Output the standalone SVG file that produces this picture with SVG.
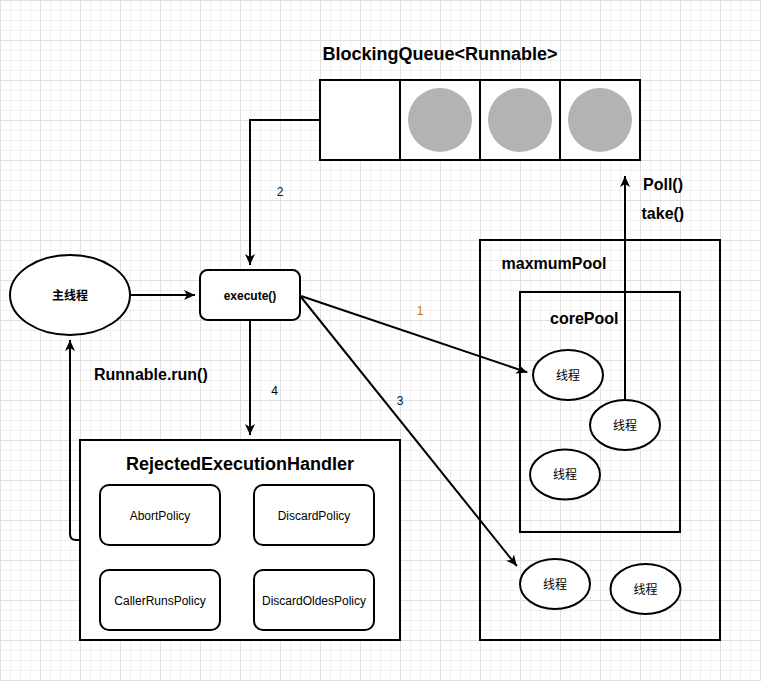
<svg xmlns="http://www.w3.org/2000/svg" width="761" height="681" viewBox="0 0 761 681">
  <defs>
    <pattern id="minor" width="10" height="10" patternUnits="userSpaceOnUse">
      <path d="M0.5,0 V10 M0,0.5 H10" stroke="#f0f0f0" stroke-width="1" fill="none"/>
    </pattern>
    <pattern id="major" width="40" height="40" patternUnits="userSpaceOnUse">
      <rect width="40" height="40" fill="url(#minor)"/>
      <path d="M0.5,0 V40 M0,0.5 H40" stroke="#e0e0e0" stroke-width="1" fill="none"/>
    </pattern>
    <marker id="arrow" viewBox="0 0 11 10" markerWidth="11" markerHeight="10" refX="11" refY="5" orient="auto" markerUnits="userSpaceOnUse">
      <path d="M0,0 L11,5 L0,10 L3,5 Z" fill="#000"/>
    </marker>
    <style>
      .box { fill: #fff; stroke: #000; stroke-width: 2; }
      .frame { fill: none; stroke: #000; stroke-width: 2; }
      .edge { fill: none; stroke: #000; stroke-width: 2; marker-end: url(#arrow); }
      .plain { fill: none; stroke: #000; stroke-width: 2; }
      .t { font-family: "Liberation Sans", Arial, "Noto Sans CJK SC", sans-serif; fill: #000; }
      .cjk { font-family: "Liberation Sans", "Noto Sans CJK SC", sans-serif; fill: #000; font-size: 12px; text-anchor: middle; }
      .big { font-size: 18px; font-weight: bold; }
      .mid { font-size: 16px; font-weight: bold; }
      .small { font-size: 12px; text-anchor: middle; }
      .num { font-size: 12px; text-anchor: middle; }
    </style>
  </defs>

  <rect width="761" height="681" fill="#fff"/>
  <rect width="761" height="681" fill="url(#major)"/>

  <g id="queue">
    <text class="t big" x="440" y="60" text-anchor="middle">BlockingQueue&lt;Runnable&gt;</text>
    <rect class="box" x="320" y="80" width="320" height="80"/>
    <path class="plain" d="M400,80 V160 M480,80 V160 M560,80 V160"/>
    <circle cx="440" cy="120" r="32" fill="#b3b3b3"/>
    <circle cx="520" cy="120" r="32" fill="#b3b3b3"/>
    <circle cx="600" cy="120" r="32" fill="#b3b3b3"/>
  </g>

  <g id="maxmumPool">
    <rect class="frame" x="480" y="240" width="240" height="400"/>
    <text class="t mid" x="501.5" y="269">maxmumPool</text>
  </g>

  <g id="corePool">
    <rect class="frame" x="520" y="292" width="160" height="240"/>
    <text class="t mid" x="550" y="324">corePool</text>
  </g>

  <g id="connectors">
    <path class="edge" d="M130,295 H195"/>
    <path class="edge" d="M320,120 H250 V265"/>
    <path class="edge" d="M250,320 V435"/>
    <path class="edge" d="M80,540 H76 Q70,540 70,534 V340"/>
    <path class="edge" d="M301,296 L527.3,372.4"/>
    <path class="edge" d="M301,297 L516.9,566.1"/>
    <path class="edge" d="M625,400 V176"/>
    <text class="t num" x="280" y="196" fill="#001933" style="fill:#001933">2</text>
    <text class="t num" x="420" y="315" style="fill:#c27800">1</text>
    <text class="t num" x="400" y="405" style="fill:#001933">3</text>
    <text class="t num" x="274.5" y="395">4</text>
    <text class="t mid" x="94" y="380">Runnable.run()</text>
    <text class="t mid" x="643" y="190">Poll()</text>
    <text class="t mid" x="641.5" y="219">take()</text>
  </g>

  <g id="mainThread">
    <ellipse class="box" cx="70" cy="295" rx="60" ry="40"/>
    <text class="cjk" x="70" y="299.5" font-weight="bold">主线程</text>
  </g>

  <g id="execute">
    <rect class="box" x="200" y="270" width="100" height="50" rx="7.5"/>
    <text class="t small" x="250" y="299.5" font-weight="bold">execute()</text>
  </g>

  <g id="handler">
    <rect class="box" x="80" y="440" width="320" height="200"/>
    <text class="t big" x="240" y="470" text-anchor="middle">RejectedExecutionHandler</text>
  </g>
  <g id="abortPolicy">
    <rect class="box" x="100" y="485" width="120" height="60" rx="9"/>
    <text class="t small" x="160" y="519.5">AbortPolicy</text>
  </g>
  <g id="discardPolicy">
    <rect class="box" x="254" y="485" width="120" height="60" rx="9"/>
    <text class="t small" x="314" y="519.5">DiscardPolicy</text>
  </g>
  <g id="callerRunsPolicy">
    <rect class="box" x="100" y="570" width="120" height="60" rx="9"/>
    <text class="t small" x="160" y="604.5">CallerRunsPolicy</text>
  </g>
  <g id="discardOldesPolicy">
    <rect class="box" x="254" y="570" width="120" height="60" rx="9"/>
    <text class="t small" x="314" y="604.5">DiscardOldesPolicy</text>
  </g>

  <g id="thread1">
    <ellipse class="box" cx="568" cy="375" rx="35" ry="25"/>
    <text class="cjk" x="568" y="379.5">线程</text>
  </g>
  <g id="thread2">
    <ellipse class="box" cx="625" cy="425" rx="35" ry="25"/>
    <text class="cjk" x="625" y="429.5">线程</text>
  </g>
  <g id="thread3">
    <ellipse class="box" cx="565" cy="474.5" rx="35" ry="25"/>
    <text class="cjk" x="565" y="479">线程</text>
  </g>
  <g id="thread4">
    <ellipse class="box" cx="555" cy="584" rx="35" ry="25"/>
    <text class="cjk" x="555" y="588.5">线程</text>
  </g>
  <g id="thread5">
    <ellipse class="box" cx="645.5" cy="589" rx="35" ry="25"/>
    <text class="cjk" x="645.5" y="593.5">线程</text>
  </g>
</svg>
